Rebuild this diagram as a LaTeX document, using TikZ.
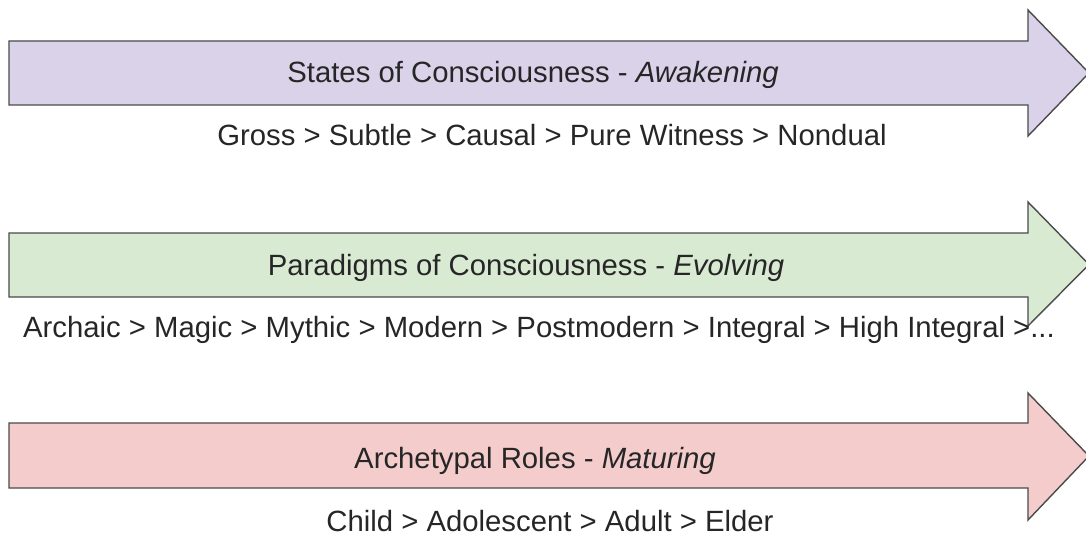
\documentclass[tikz,border=0pt]{standalone}
\usepackage{fontspec}
\setmainfont{Liberation Sans}
\definecolor{purplefill}{HTML}{D9D2E9}
\definecolor{greenfill}{HTML}{D9EAD3}
\definecolor{redfill}{HTML}{F4CCCC}
\definecolor{edge}{HTML}{4A4A4A}
\definecolor{ink}{HTML}{262626}
\tikzset{
  bigarrow/.style={draw=edge, line width=1.4pt, line join=miter},
  txt/.style={inner sep=0pt, text=ink, font=\fontsize{29.3}{34}\selectfont, anchor=base},
}
\begin{document}
\begin{tikzpicture}[x=1pt,y=-1pt]
\useasboundingbox (0,0) rectangle (1086,540);
% arrow 1
\draw[bigarrow, fill=purplefill] (9,41) -- (1028,41) -- (1028,10) -- (1089,73) -- (1028,136) -- (1028,105) -- (9,105) -- cycle;
% arrow 2
\draw[bigarrow, fill=greenfill] (9,233) -- (1028,233) -- (1028,202) -- (1089,264.5) -- (1028,326) -- (1028,297) -- (9,297) -- cycle;
% arrow 3
\draw[bigarrow, fill=redfill] (9,423) -- (1028,423) -- (1028,393) -- (1089,456) -- (1028,520) -- (1028,488) -- (9,488) -- cycle;

\node[txt] (t1) at (533,83) {States of Consciousness - \textit{Awakening}};
\node[txt] (s1) at (552,146) {Gross > Subtle > Causal > Pure Witness > Nondual};
\node[txt] (t2) at (526,275) {Paradigms of Consciousness - \textit{Evolving}};
\node[txt] (s2) at (539,337) {Archaic > Magic > Mythic > Modern > Postmodern > Integral > High Integral >...};
\node[txt] (t3) at (535,468) {Archetypal Roles - \textit{Maturing}};
\node[txt] (s3) at (550,531) {Child > Adolescent > Adult > Elder};
\end{tikzpicture}
\end{document}
